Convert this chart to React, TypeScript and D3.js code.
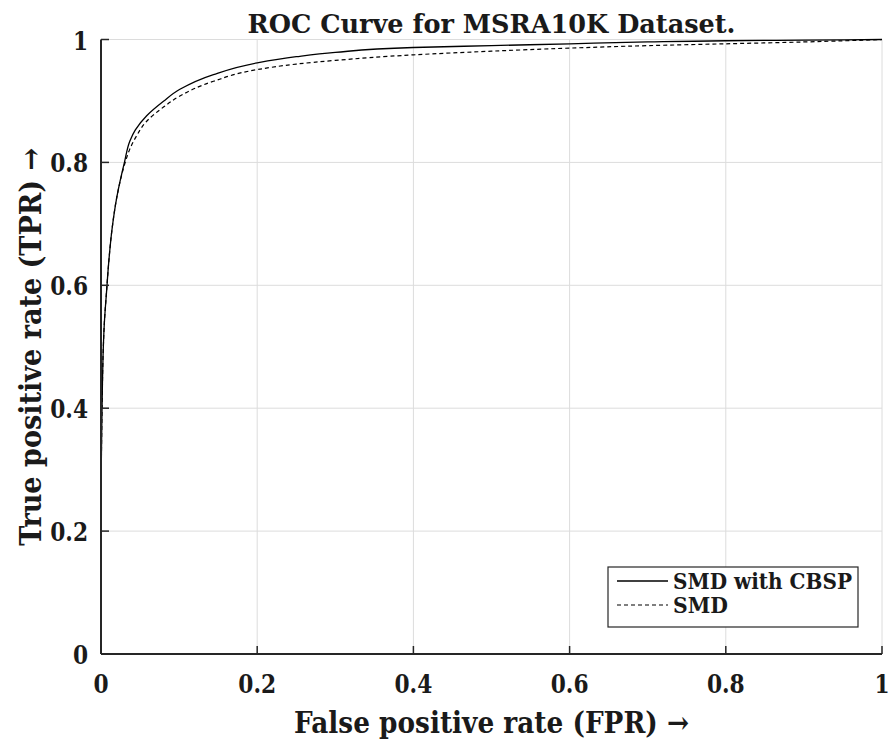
import React from "react";
import * as d3 from "d3";

const fprCBSP = [0, 0, 0.0008, 0.0017, 0.0026, 0.0043, 0.0073, 0.0098, 0.014, 0.0205, 0.03, 0.037, 0.044, 0.0585, 0.08, 0.101, 0.144, 0.2, 0.25, 0.3, 0.4, 0.5, 0.6, 0.7, 0.8, 0.9, 1];
const tprCBSP = [0, 0.25, 0.35, 0.43, 0.484, 0.539, 0.593, 0.636, 0.69, 0.745, 0.8, 0.835, 0.853, 0.876, 0.8995, 0.919, 0.943, 0.962, 0.972, 0.979, 0.987, 0.99, 0.993, 0.996, 0.998, 0.999, 1];

const fprSMD = [0, 0, 0.0008, 0.0017, 0.0026, 0.0043, 0.0073, 0.0098, 0.014, 0.0205, 0.031, 0.037, 0.045, 0.0585, 0.08, 0.101, 0.144, 0.2, 0.25, 0.3, 0.4, 0.5, 0.6, 0.7, 0.8, 0.9, 1];
const tprSMD = [0, 0.25, 0.35, 0.43, 0.484, 0.539, 0.593, 0.636, 0.69, 0.745, 0.8, 0.822, 0.842, 0.867, 0.89, 0.908, 0.932, 0.951, 0.96, 0.966, 0.975, 0.981, 0.986, 0.99, 0.993, 0.996, 1];

const xTicks = [0, 0.2, 0.4, 0.6, 0.8, 1];
const yTicks = [0, 0.2, 0.4, 0.6, 0.8, 1];
const xTickLabels = ["0", "0.2", "0.4", "0.6", "0.8", "1"];
const yTickLabels = ["0", "0.2", "0.4", "0.6", "0.8", "1"];

const titleText = "ROC Curve for MSRA10K Dataset.";
const xLabel = "False positive rate (FPR) \u2192";
const yLabel = "True positive rate (TPR) \u2192";
const seriesNames = ["SMD with CBSP", "SMD"];

const W = 893;
const H = 745;
const L = 101, R = 882, T = 39.5, B = 654;
const FONT = "'DejaVu Serif', serif";
const INK = "#1a1a1a";

export default function App() {
  const x = d3.scaleLinear().domain([0, 1]).range([L, R]);
  const y = d3.scaleLinear().domain([0, 1]).range([B, T]);
  const line = d3.line<[number, number]>().x(d => x(d[0])).y(d => y(d[1])).curve(d3.curveMonotoneY);
  const d1 = line(fprCBSP.map((f, i) => [f, tprCBSP[i]] as [number, number])) || "";
  const d2 = line(fprSMD.map((f, i) => [f, tprSMD[i]] as [number, number])) || "";

  return (
    <svg width={W} height={H} style={{ position: "absolute", left: 0, top: 0, background: "#fff" }}>
      <rect x={0} y={0} width={W} height={H} fill="#fff" />
      {xTicks.slice(1).map(t => (
        <line key={"gx" + t} x1={x(t)} x2={x(t)} y1={B} y2={T} stroke="#dcdcdc" strokeWidth={1} />
      ))}
      {yTicks.slice(1).map(t => (
        <line key={"gy" + t} x1={L} x2={R} y1={y(t)} y2={y(t)} stroke="#dcdcdc" strokeWidth={1} />
      ))}
      <path d={d2} fill="none" stroke="#000" strokeWidth={1.2} strokeDasharray="4,3" />
      <path d={d1} fill="none" stroke="#000" strokeWidth={1.3} />
      <line x1={L} x2={L} y1={T} y2={B} stroke="#262626" strokeWidth={2} />
      <line x1={L} x2={R} y1={B} y2={B} stroke="#262626" strokeWidth={2} />
      {xTicks.map((t, i) => (
        <g key={"tx" + t}>
          <line x1={x(t)} x2={x(t)} y1={B} y2={B - 8} stroke="#262626" strokeWidth={1.5} />
          <g transform={`translate(${x(t)}, 693) scale(0.82, 1)`}>
            <text x={0} y={0} textAnchor="middle" fontFamily={FONT} fontWeight="bold" fontSize={26.5} fill={INK}>{xTickLabels[i]}</text>
          </g>
        </g>
      ))}
      {yTicks.map((t, i) => (
        <g key={"ty" + t}>
          <line x1={L} x2={L + 8} y1={y(t)} y2={y(t)} stroke="#262626" strokeWidth={1.5} />
          <g transform={`translate(88, ${y(t) + 10}) scale(0.82, 1)`}>
            <text x={0} y={0} textAnchor="end" fontFamily={FONT} fontWeight="bold" fontSize={26.5} fill={INK}>{yTickLabels[i]}</text>
          </g>
        </g>
      ))}
      <text x={(L + R) / 2} y={33} textAnchor="middle" fontFamily={FONT} fontWeight="bold" fontSize={26} fill={INK} textLength={488} lengthAdjust="spacingAndGlyphs">{titleText}</text>
      <text x={(L + R) / 2} y={733} textAnchor="middle" fontFamily={FONT} fontWeight="bold" fontSize={30} fill={INK} textLength={395} lengthAdjust="spacingAndGlyphs">{xLabel}</text>
      <text transform={`translate(41, ${(T + B) / 2}) rotate(-90)`} textAnchor="middle" fontFamily={FONT} fontWeight="bold" fontSize={30} fill={INK} textLength={398} lengthAdjust="spacingAndGlyphs">{yLabel}</text>
      <rect x={608} y={567} width={250} height={60} fill="#fff" stroke="#262626" strokeWidth={1.2} />
      <line x1={617} x2={668} y1={581} y2={581} stroke="#000" strokeWidth={1.3} />
      <text x={673} y={589} fontFamily={FONT} fontWeight="bold" fontSize={22} fill={INK} textLength={179} lengthAdjust="spacingAndGlyphs">{seriesNames[0]}</text>
      <line x1={617} x2={668} y1={605} y2={605} stroke="#000" strokeWidth={1.2} strokeDasharray="4,3" />
      <text x={673} y={613} fontFamily={FONT} fontWeight="bold" fontSize={22} fill={INK} textLength={55} lengthAdjust="spacingAndGlyphs">{seriesNames[1]}</text>
    </svg>
  );
}
